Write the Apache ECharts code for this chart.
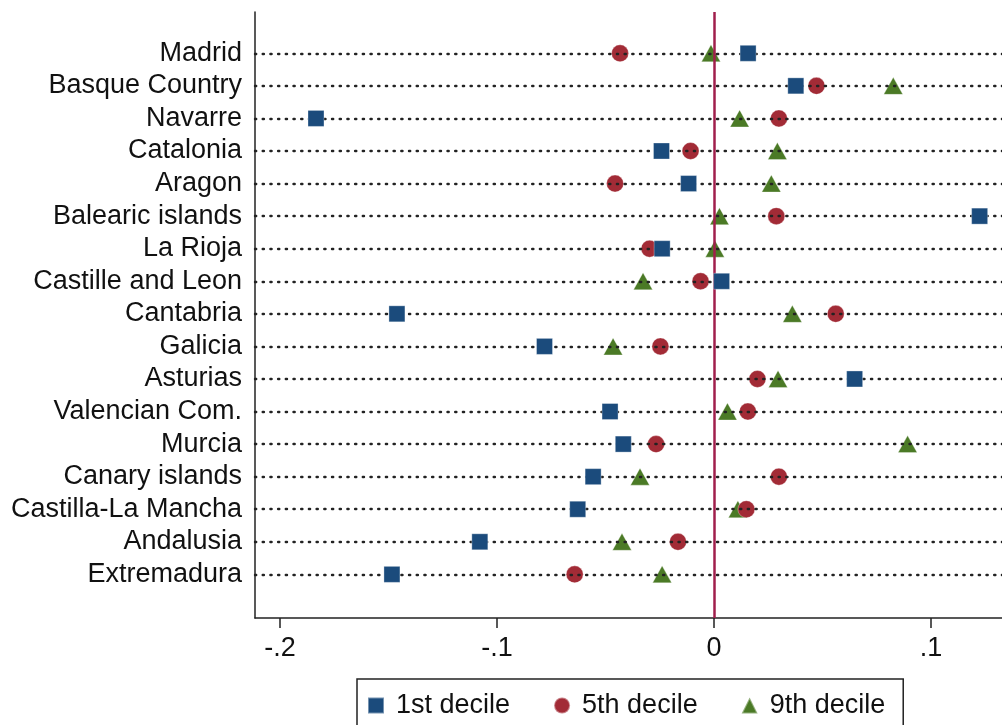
<!DOCTYPE html>
<html>
<head>
<meta charset="utf-8">
<script src="https://cdn.jsdelivr.net/npm/echarts@6/dist/echarts.min.js"></script>
<style>
html,body{margin:0;padding:0;background:#fff;}
#chart{width:1002px;height:725px;}
</style>
</head>
<body>
<div id="chart"></div>
<script>
var categories = ["Madrid","Basque Country","Navarre","Catalonia","Aragon","Balearic islands","La Rioja","Castille and Leon","Cantabria","Galicia","Asturias","Valencian Com.","Murcia","Canary islands","Castilla-La Mancha","Andalusia","Extremadura"];
var decile1 = [0.0157,0.0377,-0.1834,-0.0242,-0.0117,0.1224,-0.0239,0.0035,-0.1461,-0.0781,0.0648,-0.0479,-0.0418,-0.0557,-0.0628,-0.1079,-0.1484];
var decile5 = [-0.0433,0.0472,0.0299,-0.0108,-0.0456,0.0287,-0.0297,-0.0062,0.0561,-0.0247,0.0200,0.0156,-0.0267,0.0299,0.0149,-0.0166,-0.0642];
var decile9 = [-0.0014,0.0826,0.0118,0.0292,0.0264,0.0025,0.0004,-0.0327,0.0361,-0.0465,0.0295,0.0062,0.0892,-0.0341,0.0110,-0.0424,-0.0239];
var xTicks = [-0.2,-0.1,0,0.1];
var seriesNames = ["1st decile","5th decile","9th decile"];

var FONT = "Liberation Sans";
function pts(arr){ return arr.map(function(v,i){ return [v,i]; }); }
var rowIdx = categories.map(function(c,i){ return i; });

var chart = echarts.init(document.getElementById('chart'), null, {renderer:'canvas'});
chart.setOption({
  animation:false,
  backgroundColor:'#ffffff',
  grid:{left:255, right:0, top:12, bottom:107, containLabel:false},
  xAxis:{
    type:'value', min:-0.2115, max:0.1327,
    axisLine:{show:true, onZero:false, lineStyle:{color:'#222', width:1.5}},
    axisTick:{show:true, customValues:xTicks, length:10, lineStyle:{color:'#222', width:1.5}},
    axisLabel:{show:true, customValues:xTicks, margin:17, fontFamily:FONT, fontSize:27, color:'#111',
      formatter:function(v){ var s = String(Math.round(v*10)/10); return s.replace('0.','.'); }},
    splitLine:{show:false}
  },
  yAxis:{
    type:'value', inverse:true, min:-1.268, max:17.34,
    axisLine:{show:true, onZero:false, lineStyle:{color:'#222', width:1.5}},
    axisTick:{show:false},
    axisLabel:{show:true, customValues:rowIdx, margin:13, fontFamily:FONT, fontSize:27, color:'#111',
      formatter:function(v){ return categories[Math.round(v)] || ''; }},
    splitLine:{show:false}
  },
  legend:{
    show:true, left:357, top:679, orient:'horizontal',
    data:[{name:seriesNames[0], icon:'rect'},{name:seriesNames[1], icon:'circle'},{name:seriesNames[2], icon:'triangle'}],
    itemWidth:16, itemHeight:16, itemGap:43,
    borderColor:'#222', borderWidth:1.5, padding:[13,18,20,10],
    textStyle:{fontFamily:FONT, fontSize:27, color:'#111', padding:[0,0,0,7]}
  },
  series:[
    {
      name:'rows', type:'scatter', data:[], silent:true,
      markLine:{
        silent:true, symbol:['none','none'], label:{show:false},
        lineStyle:{color:'#222', type:[1.2,6.5], width:2.4, cap:'round', opacity:1},
        data: rowIdx.map(function(i){ return {yAxis:i}; })
      }
    },
    {
      name:'zero', type:'scatter', data:[], silent:true,
      markLine:{
        silent:true, symbol:['none','none'], label:{show:false},
        lineStyle:{color:'#a01f4c', type:'solid', width:2.5, opacity:1},
        data:[{xAxis:0}]
      }
    },
    {
      name:seriesNames[0], type:'scatter', symbol:'rect', symbolSize:16, z:5,
      itemStyle:{color:'#1b4b7c', opacity:1, borderColor:'rgba(255,255,255,0.4)', borderWidth:0.8},
      data:pts(decile1)
    },
    {
      name:seriesNames[1], type:'scatter', symbol:'circle', symbolSize:17, z:4,
      itemStyle:{color:'#a22b36', opacity:1, borderColor:'rgba(255,255,255,0.4)', borderWidth:0.8},
      data:pts(decile5)
    },
    {
      name:seriesNames[2], type:'scatter', symbol:'triangle', symbolSize:[19,17], z:3,
      itemStyle:{color:'#4b7a26', opacity:1, borderColor:'rgba(255,255,255,0.4)', borderWidth:0.8},
      data:pts(decile9)
    }
  ]
});
</script>
</body>
</html>
